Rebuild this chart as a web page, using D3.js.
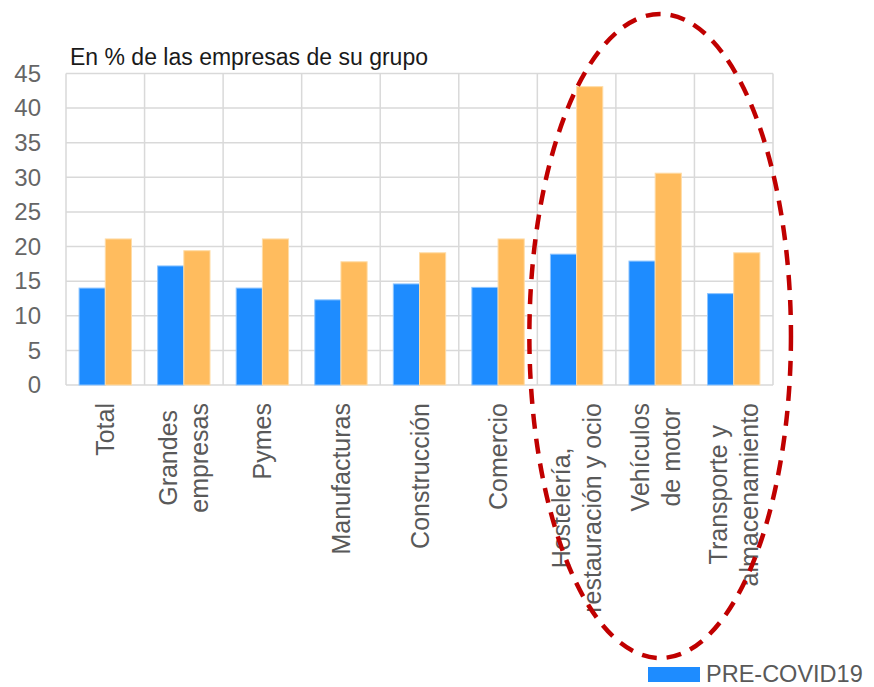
<!DOCTYPE html>
<html>
<head>
<meta charset="utf-8">
<script src="https://cdn.jsdelivr.net/npm/d3@7"></script>
<style>
  html, body { margin: 0; padding: 0; background: #fff; }
  svg { display: block; }
  text { font-family: "Liberation Sans", Arial, Helvetica, sans-serif; }
</style>
</head>
<body>
<svg id="chart" width="874" height="687"></svg>
<script>
const categories = [
  ["Total"],
  ["Grandes", "empresas"],
  ["Pymes"],
  ["Manufacturas"],
  ["Construcción"],
  ["Comercio"],
  ["Hostelería,", "restauración y ocio"],
  ["Vehículos", "de motor"],
  ["Transporte y", "almacenamiento"]
];
const preCovid = [14.0, 17.2, 14.0, 12.3, 14.6, 14.1, 18.9, 17.9, 13.2];
const postCovid = [21.1, 19.4, 21.1, 17.8, 19.1, 21.1, 43.1, 30.6, 19.1];
const yTicks = [0, 5, 10, 15, 20, 25, 30, 35, 40, 45];
const seriesNames = ["PRE-COVID19"];
const title = "En % de las empresas de su grupo";

const colors = { pre: "#1e8cff", post: "#ffbc5e" };

const svg = d3.select("#chart");
const margin = { left: 66, right: 101, top: 73.5, bottom: 302 };
const W = 874, H = 687;
const plotW = W - margin.left - margin.right;
const plotH = H - margin.top - margin.bottom;

const keys = categories.map(c => c.join(" "));
const x = d3.scaleBand().domain(keys).range([margin.left, margin.left + plotW]).paddingInner(0).paddingOuter(0);
const y = d3.scaleLinear().domain([0, 45]).range([margin.top + plotH, margin.top]);
const bw = x.bandwidth();
const groupPad = bw / 6;
const xs = d3.scaleBand().domain(["pre", "post"]).range([groupPad, bw - groupPad]).padding(0);

// gridlines
const grid = svg.append("g");
grid.selectAll("line.h").data(yTicks).join("line")
  .attr("x1", margin.left).attr("x2", margin.left + plotW)
  .attr("y1", d => y(d)).attr("y2", d => y(d))
  .attr("stroke", "#d9d9d9").attr("stroke-width", 1.5);
const vBounds = keys.map(k => x(k)).concat([margin.left + plotW]);
grid.selectAll("line.v").data(vBounds).join("line")
  .attr("x1", d => d).attr("x2", d => d)
  .attr("y1", y(45)).attr("y2", y(0))
  .attr("stroke", "#d9d9d9").attr("stroke-width", 1.5);

// y axis labels
const yAxis = d3.axisLeft(y).tickValues(yTicks).tickSize(0).tickPadding(0);
const ya = svg.append("g").attr("transform", `translate(${margin.left - 25},0)`).call(yAxis);
ya.select(".domain").remove();
ya.selectAll("text").attr("font-size", 24).attr("fill", "#666")
  .style("font-family", '"Liberation Sans", Arial, sans-serif');

// bars
const rows = keys.map((k, i) => ({ key: k, pre: preCovid[i], post: postCovid[i] }));
const g = svg.append("g");
rows.forEach(r => {
  ["pre", "post"].forEach(s => {
    g.append("rect")
      .attr("x", x(r.key) + xs(s))
      .attr("y", y(r[s]))
      .attr("width", xs.bandwidth())
      .attr("height", y(0) - y(r[s]))
      .attr("fill", colors[s])
      .attr("stroke", s === "pre" ? "#8cc4ff" : "#ffdca6")
      .attr("stroke-width", 1);
  });
});

// title
svg.append("text").attr("x", 70).attr("y", 65).attr("font-size", 23)
  .attr("fill", "#1a1a1a").text(title);

// category labels (rotated)
const labTop = 403;
const lineH = 31;
categories.forEach((lines, i) => {
  const cx = x(keys[i]) + bw / 2;
  const t = svg.append("text").attr("font-size", 25).attr("fill", "#595959")
    .attr("text-anchor", "middle");
  const n = lines.length;
  const tsp = lines.map((ln, j) => t.append("tspan").text(ln));
  const maxLen = d3.max(tsp, s => s.node().getComputedTextLength());
  const midY = labTop + maxLen / 2;
  t.attr("transform", `translate(${cx},${midY}) rotate(-90)`);
  tsp.forEach((s, j) => {
    const off = (j - (n - 1) / 2) * lineH;
    s.attr("x", 0).attr("y", off).attr("dy", "0.36em");
  });
});

// annotation ellipse
const exC = x(keys[7]) + bw / 2 + 5;
svg.append("ellipse")
  .attr("cx", exC).attr("cy", 336)
  .attr("rx", bw * 1.665).attr("ry", 322)
  .attr("fill", "none").attr("stroke", "#c00000")
  .attr("stroke-width", 4.5).attr("stroke-dasharray", "15,10");

// legend
const leg = svg.append("g");
leg.append("rect").attr("x", 648).attr("y", 667).attr("width", 52).attr("height", 15).attr("fill", colors.pre);
leg.append("text").attr("x", 706).attr("y", 682).attr("font-size", 23.5).attr("fill", "#595959").text(seriesNames[0]);
</script>
</body>
</html>
